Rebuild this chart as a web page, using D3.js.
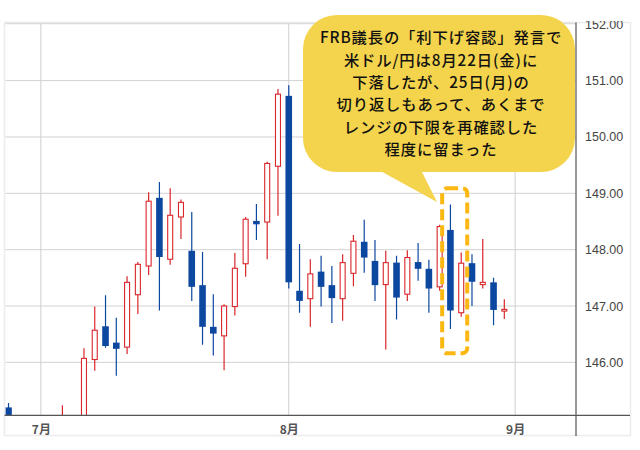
<!DOCTYPE html>
<html><head><meta charset="utf-8">
<script src="https://cdn.jsdelivr.net/npm/d3@7"></script>
<style>html,body{margin:0;padding:0;background:#fff;}svg{display:block;}</style>
</head><body>
<svg id="chart" width="640" height="450"></svg>
<script>
// ---- data (USD/JPY daily candles) ----
const dates = [
 "2025-06-26","2025-06-27","2025-06-30","2025-07-01","2025-07-02","2025-07-03","2025-07-04",
 "2025-07-07","2025-07-08","2025-07-09","2025-07-10","2025-07-11","2025-07-14","2025-07-15",
 "2025-07-16","2025-07-17","2025-07-18","2025-07-21","2025-07-22","2025-07-23","2025-07-24",
 "2025-07-25","2025-07-28","2025-07-29","2025-07-30","2025-07-31","2025-08-01","2025-08-04",
 "2025-08-05","2025-08-06","2025-08-07","2025-08-08","2025-08-11","2025-08-12","2025-08-13",
 "2025-08-14","2025-08-15","2025-08-18","2025-08-19","2025-08-20","2025-08-21","2025-08-22",
 "2025-08-25","2025-08-26","2025-08-27","2025-08-28","2025-08-29"];
const open  = [145.20,144.40,144.60,144.00,143.40,143.70,144.90,
 144.50,146.05,146.64,146.35,146.27,147.20,147.71,
 148.92,147.83,148.58,147.98,147.37,146.63,146.47,
 146.99,147.75,148.51,148.49,149.48,150.73,147.27,
 147.13,147.61,147.37,147.13,147.58,148.14,147.80,
 147.38,147.77,147.21,147.78,147.66,147.34,148.35,
 146.88,147.76,147.38,147.42,146.91];
const high  = [145.28,144.80,144.70,144.10,144.00,145.24,144.95,
 146.25,146.99,147.19,146.79,147.53,147.78,149.02,
 149.20,149.09,148.89,148.67,147.96,147.21,147.03,
 147.94,148.58,148.81,149.56,150.85,150.92,148.10,
 147.83,147.89,147.71,147.92,148.26,148.53,148.17,
 147.98,147.89,147.99,148.12,147.82,148.44,148.80,
 147.95,147.92,148.19,147.50,147.12];
const low   = [144.30,144.10,143.80,142.70,143.20,143.40,144.20,
 144.20,145.85,146.26,145.76,146.15,146.86,147.55,
 146.92,147.73,148.19,147.09,146.31,146.12,145.86,
 146.83,147.52,148.17,147.83,148.60,147.31,146.88,
 146.63,146.99,146.70,146.74,147.35,147.59,147.09,
 146.23,146.76,147.09,147.45,146.88,147.27,146.59,
 146.81,147.00,147.31,146.66,146.77];
const close = [144.40,144.60,144.00,143.40,143.70,144.90,144.50,
 146.07,146.57,146.29,146.24,147.42,147.74,148.86,
 147.87,148.61,148.84,147.34,146.63,146.51,147.00,
 147.67,148.54,148.45,149.53,150.76,147.42,147.09,
 147.57,147.34,147.14,147.77,148.15,147.86,147.37,
 147.77,147.15,147.86,147.66,147.31,148.41,146.92,
 147.76,147.43,147.42,146.93,146.94];
const monthStarts = ["2025-07-01","2025-08-01","2025-09-01"];
const monthLabels = ["7月","8月","9月"];
const priceTicks = [146,147,148,149,150,151,152];
const noteLines = ["FRB議長の「利下げ容認」発言で","米ドル/円は8月22日(金)に","下落したが、25日(月)の",
 "切り返しもあって、あくまで","レンジの下限を再確認した","程度に留まった"];
const highlightFrom = "2025-08-21", highlightTo = "2025-08-25";

// ---- layout ----
const svg = d3.select("#chart");
const L = 5.5, R = 576, T = 23.5, B = 415.3;
const idxOf = d => { const i = dates.indexOf(d); return i >= 0 ? i : dates.length; };
const x = d3.scaleLinear().domain([-0.28, 52.65]).range([L, R]);
const y = d3.scaleLinear().domain([145.06, 152]).range([B, 24.3]);

const defs = svg.append("defs");
defs.append("clipPath").attr("id","plotClip").append("rect")
  .attr("x",L).attr("y",T).attr("width",R-L).attr("height",B-T);
defs.append("clipPath").attr("id","axClip").append("rect")
  .attr("x",R).attr("y",21).attr("width",640-R).attr("height",B-21+20);

// outer light frame
svg.append("rect").attr("x",4.5).attr("y",22.5).attr("width",626).attr("height",413)
  .attr("fill","none").attr("stroke","#ececec").attr("stroke-width",1.5);

// grid
const grid = svg.append("g");
grid.selectAll("line.h").data(priceTicks.filter(v=>v<152)).join("line")
  .attr("x1",L).attr("x2",R).attr("y1",d=>y(d)).attr("y2",d=>y(d))
  .attr("stroke","#d2d2d2").attr("stroke-width",1);
grid.selectAll("line.v").data(monthStarts).join("line")
  .attr("x1",d=>x(idxOf(d))).attr("x2",d=>x(idxOf(d))).attr("y1",T).attr("y2",B)
  .attr("stroke","#cfcfcf").attr("stroke-width",1);
grid.append("line").attr("x1",L).attr("x2",R).attr("y1",T).attr("y2",T)
  .attr("stroke","#dcdcdc").attr("stroke-width",1.5);

// candles
const blue = "#0d48a0", red = "#d9262b";
const cg = svg.append("g").attr("clip-path","url(#plotClip)");
const data = dates.map((d,i)=>({i,o:open[i],h:high[i],l:low[i],c:close[i]}));
const bw = 6;
cg.selectAll("line.wick").data(data).join("line")
  .attr("x1",d=>x(d.i)).attr("x2",d=>x(d.i)).attr("y1",d=>y(d.h)).attr("y2",d=>y(d.l))
  .attr("stroke",d=>d.c>=d.o?red:blue).attr("stroke-width",1.2);
cg.selectAll("rect.down").data(data.filter(d=>d.c<d.o)).join("rect")
  .attr("x",d=>x(d.i)-bw/2-0.3).attr("width",bw+0.6)
  .attr("y",d=>y(d.o)).attr("height",d=>Math.max(2,y(d.c)-y(d.o)))
  .attr("fill",blue);
cg.selectAll("rect.up").data(data.filter(d=>d.c>=d.o)).join("rect")
  .attr("x",d=>x(d.i)-bw/2+0.5).attr("width",bw-1)
  .attr("y",d=>y(d.c)).attr("height",d=>Math.max(1.5,y(d.o)-y(d.c)))
  .attr("fill","#fff").attr("stroke",red).attr("stroke-width",1.1);

// axes
const xAxis = svg.append("g").attr("transform",`translate(0,${B})`)
  .call(d3.axisBottom(x).tickValues(monthStarts.map(idxOf)).tickSize(0).tickPadding(10)
    .tickFormat((d,k)=>monthLabels[k]));
xAxis.select(".domain").remove();
xAxis.selectAll("text").attr("font-family","'Noto Sans CJK JP', sans-serif")
  .attr("font-size",12).attr("font-weight",700).attr("fill","#555");
svg.append("line").attr("x1",L-1).attr("x2",630).attr("y1",B).attr("y2",B)
  .attr("stroke","#555").attr("stroke-width",1.2);

const yWrap = svg.append("g").attr("clip-path","url(#axClip)");
const yAxis = yWrap.append("g").attr("transform",`translate(${R},0)`)
  .call(d3.axisRight(y).tickValues(priceTicks).tickSize(0).tickPadding(9).tickFormat(d3.format(".2f")));
yAxis.select(".domain").remove();
yAxis.selectAll("text").attr("font-family","'Liberation Sans', Arial, sans-serif")
  .attr("font-size",12.5).attr("fill","#444");
svg.append("line").attr("x1",R).attr("x2",R).attr("y1",T-1).attr("y2",436)
  .attr("stroke","#555").attr("stroke-width",1.2);

// highlight dashed box
const hx0 = x(idxOf(highlightFrom)), hx1 = x(idxOf(highlightTo));
svg.append("rect").attr("x",hx0+2.5).attr("y",188.3).attr("width",(hx1-hx0)-8.5+12).attr("height",165)
  .attr("rx",5).attr("fill","none").attr("stroke","#fbb813").attr("stroke-width",4)
  .attr("stroke-dasharray","11,5");

// speech bubble
const bubble = svg.append("g");
bubble.append("rect").attr("x",303).attr("y",15).attr("width",272).attr("height",157)
  .attr("rx",34).attr("fill","#f4d44c");
bubble.append("path").attr("d","M375,168 L420,168 L437,202 Z").attr("fill","#f4d44c");
const lineGap = 22.3, midY = 93.7;
bubble.selectAll("text.note").data(noteLines).join("text")
  .attr("x",441).attr("y",(d,i)=>midY+(i-2.5)*lineGap).attr("dy","0.36em")
  .attr("text-anchor","middle").attr("font-family","'Noto Sans CJK JP', sans-serif")
  .attr("font-size",15.3).attr("letter-spacing",0.9).attr("font-weight",500).attr("fill","#111")
  .text(d=>d);
</script>
</body></html>
